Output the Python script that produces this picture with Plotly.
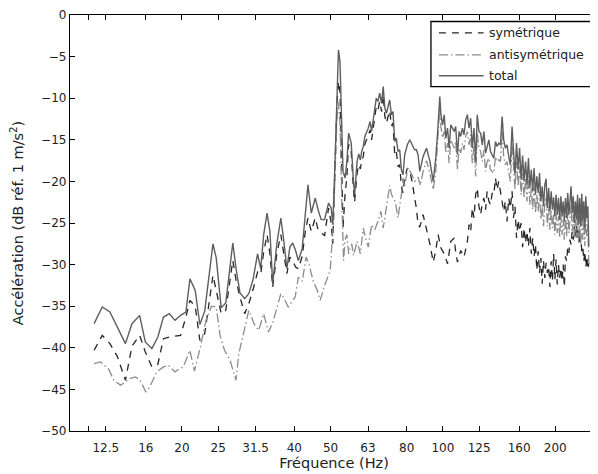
import plotly.graph_objects as go

# spectres (Hz, dB ref 1 m/s2)
freq_total = [
    11.63, 12.23, 12.82, 13.41, 14.11, 14.69, 15.40, 15.95, 16.61, 17.23, 17.84, 18.50, 19.16, 19.83,
    20.49, 21.0, 21.7, 22.33, 23.01, 24.21, 24.7, 25.47, 26.2, 27.36, 27.92, 28.6, 29.45, 30.2, 31.0,
    31.88, 32.5, 33.1, 33.8, 34.4, 35.0, 35.9, 36.8, 37.4, 38.2, 38.9, 39.6, 40.3, 41.0, 41.98, 42.8,
    43.5, 44.4, 45.5, 46.3, 47.2, 48.2, 49.4, 50.2, 50.7, 51.4, 52.0, 52.5, 53.0, 53.6, 54.0, 54.7,
    55.3, 55.9, 56.8, 57.6, 58.0, 58.9, 59.5, 60.1, 60.6, 61.2, 61.8, 63.1, 63.8, 64.4, 65.0, 65.7,
    66.3, 67.0, 67.7, 68.5, 69.2, 69.9, 70.6, 71.3, 72.0, 72.8, 73.5, 74.3, 75.0, 75.8, 76.6, 77.4,
    78.2, 79.0, 80.3, 81.5, 82.7, 84.0, 84.9, 85.8, 86.7, 88.5, 90.4, 92.3, 94.2, 95.7, 97.1, 98.1,
    98.8, 99.8, 100.8, 101.8, 102.9, 103.9, 105.0, 106.1, 107.2, 108.2, 109.4, 110.5, 111.6, 112.8,
    113.9, 115.1, 116.3, 117.5, 118.7, 119.9, 121.1, 122.4, 123.6, 124.9, 126.2, 127.5, 128.8, 130.1,
    131.4, 132.8, 134.1, 136.9, 138.3, 139.7, 141.1, 142.6, 144.1, 145.5, 147.0, 148.5, 150.1, 151.6,
    153.2, 154.5, 156, 157.5, 159, 160.5, 162, 163.5, 165, 166.5, 168, 169.5, 171, 172.5, 174, 175.5,
    177, 178.5, 180, 181.5, 183, 184.5, 186, 187.5, 189, 190.5, 192, 193.5, 195, 196.5, 198, 199.5,
    201, 202.5, 204, 205.5, 207, 208.5, 210, 211.5, 213, 214.5, 216, 217.5, 219, 220.5, 222, 223.5,
    225, 226.5, 228, 229.5, 231, 232.5, 234, 235.5, 237, 238.5, 240, 241.5, 243, 244.5, 246,
]
db_total = [
    -37.1, -35.1, -35.7, -37.5, -39.5, -37.1, -36.1, -39.3, -40.1, -38.7, -36.3, -35.9, -36.7, -36.1,
    -35.7, -31.7, -33.1, -37.2, -35.6, -27.5, -29.2, -35.2, -34.6, -27.4, -30.5, -33.4, -34.1, -33.5, -31.8,
    -28.7, -30.5, -26.4, -23.8, -26.0, -32.3, -27.5, -24.4, -26.8, -30.5, -27.9, -27.4, -28.3, -29.5, -28.1, -23.4,
    -20.4, -23.8, -22.0, -23.4, -24.6, -24.6, -22.6, -23.2, -25.2, -17.6, -8.8, -4.2, -5.6, -14.0, -18.8, -19.6,
    -17.6, -14.2, -15.4, -20.0, -21.6, -17.6, -16.7, -17.4, -16.4, -15.8, -14.6, -13.6, -12.8, -14.0, -12.6, -10.8,
    -10.0, -10.4, -9.4, -10.6, -8.6, -11.2, -11.8, -11.0, -10.2, -12.0, -11.6, -15.2, -14.8, -16.4, -16.2, -18.6,
    -19.2, -16.8, -15.6, -15.0, -15.6, -16.2, -16.2, -16.8, -18.8, -17.0, -16.0, -17.6, -20.0, -17.2, -13.2, -9.8,
    -12.0, -13.2, -12.0, -14.8, -13.6, -16.0, -13.2, -13.6, -14.0, -13.4, -16.8, -14.0, -14.6, -13.6,
    -14.4, -12.6, -12.0, -13.6, -12.4, -16.0, -13.6, -17.6, -12.0, -14.0, -14.2, -15.6, -14.0, -16.6,
    -15.6, -15.0, -16.4, -17.2, -15.2, -15.8, -15.4, -15.6, -12.2, -15.0, -16.0, -15.6, -17.0, -18.0,
    -13.4, -16.8, -19.2, -15.4, -18.6, -16.0, -19.8, -16.9, -20.0, -17.6, -20.4, -17.2, -20.8, -18.6, -21.2, -18.4,
    -21.6, -19.4, -21.4, -19.0, -22.4, -20.6, -23.0, -20.4, -19.7, -23.2, -20.8, -23.6, -21.2, -23.4, -21.9, -24.2,
    -21.6, -24.0, -22.0, -24.6, -21.8, -24.2, -22.4, -24.8, -22.0, -24.4, -21.4, -24.0, -22.2, -20.6, -23.8, -21.8,
    -25.0, -22.4, -24.6, -21.6, -25.2, -22.0, -25.4, -21.5, -24.8, -22.4, -25.6, -21.8, -24.4, -23.0, -27.8,
]

freq_sym = [
    11.63, 12.23, 12.82, 13.41, 14.11, 14.69, 15.40, 15.95, 16.61, 17.23, 17.84, 18.50, 19.16, 19.83,
    20.49, 21.0, 21.7, 22.33, 23.01, 24.21, 24.7, 25.47, 26.2, 27.36, 27.92, 28.6, 29.45, 30.2, 31.0,
    31.88, 32.5, 33.1, 33.8, 34.4, 35.0, 35.9, 36.8, 37.4, 38.2, 38.9, 39.6, 40.3, 41.0, 41.98, 42.8,
    43.5, 44.4, 45.5, 46.3, 47.2, 48.2, 49.4, 50.2, 50.7, 51.4, 52.0, 52.5, 53.0, 53.6, 54.0, 54.7,
    55.3, 55.9, 56.8, 57.6, 58.0, 58.9, 59.5, 60.1, 60.6, 61.2, 61.8, 63.1, 63.8, 64.4, 65.0, 65.7,
    66.3, 67.0, 67.7, 68.5, 69.2, 69.9, 70.6, 71.3, 72.0, 72.8, 73.5, 74.3, 75.0, 75.8, 76.6, 77.4,
    78.2, 79.0, 80.3, 81.5, 82.7, 84.0, 84.9, 85.8, 86.7, 88.5, 90.4, 92.3, 94.2, 95.7, 97.1, 98.8,
    100.8, 102.9, 105.0, 107.2, 108.2, 109.4, 111.6, 113.9, 116.3, 117.5, 118.7, 119.9, 121.1, 122.4,
    123.6, 124.9, 126.2, 127.5, 128.8, 130.1, 131.4, 132.8, 134.1, 135.5, 136.9, 138.3, 139.7, 141.1,
    142.6, 144.1, 145.5, 147.0, 148.5, 150.1, 151.6, 153.2, 154.5, 156, 157.5, 159, 160.5, 162, 163.5,
    165, 166.5, 168, 169.5, 171, 172.5, 174, 175.5, 177, 178.5, 180, 181.5, 183, 184.5, 186, 187.5,
    189, 190.5, 192, 193.5, 195, 196.5, 198, 199.5, 201, 202.5, 204, 205.5, 207, 208.5, 210, 211.5,
    213, 214.5, 216, 217.5, 219, 220.5, 222, 223.5, 225, 226.5, 228, 229.5, 231, 232.5, 234, 235.5,
    237, 238.5, 240, 241.5, 243, 244.5, 246,
]
db_sym = [
    -40.3, -38.5, -39.5, -41.0, -43.9, -39.8, -38.5, -40.5, -42.3, -42.0, -38.9, -38.7, -38.6, -38.5,
    -36.3, -34.3, -35.0, -39.1, -38.3, -31.3, -33.1, -35.9, -35.5, -29.5, -31.9, -33.9, -35.9, -34.7, -33.0,
    -30.9, -31.2, -28.5, -26.4, -28.7, -32.7, -28.7, -26.4, -28.3, -31.1, -29.1, -29.5, -30.3, -30.5, -29.0, -26.0,
    -24.4, -26.0, -24.4, -25.8, -26.2, -26.5, -23.2, -25.0, -27.5, -19.0, -10.8, -8.0, -9.2, -18.8, -25.6, -21.5,
    -19.5, -15.5, -16.5, -21.0, -22.5, -19.0, -18.0, -18.5, -17.5, -17.0, -15.5, -14.5, -13.8, -15.0, -13.5, -11.8,
    -11.0, -11.4, -10.4, -11.6, -9.6, -12.2, -13.0, -12.2, -11.5, -13.3, -13.0, -16.8, -16.4, -18.2, -18.0, -20.6,
    -21.4, -19.6, -18.4, -18.8, -20.0, -22.0, -23.2, -25.2, -25.5, -24.0, -25.6, -27.5, -29.7, -28.3, -26.4, -28.0,
    -28.7, -29.9, -27.2, -26.8, -28.5, -29.7, -28.3, -29.1, -27.2, -25.2, -26.0, -23.2, -24.4, -21.6,
    -20.8, -23.0, -24.0, -22.6, -22.0, -23.4, -21.2, -22.4, -22.8, -21.4, -21.6, -19.6, -21.0, -20.0,
    -21.2, -22.6, -23.6, -22.4, -24.8, -22.0, -23.2, -21.2, -24.4, -23.0, -26.8, -24.6, -26.0, -25.0, -27.9,
    -25.6, -27.4, -26.0, -27.8, -25.6, -28.7, -26.8, -29.0, -27.6, -30.7, -28.4, -31.0, -29.2, -32.3, -29.5, -31.6,
    -29.8, -31.0, -30.2, -32.7, -29.6, -32.0, -28.7, -31.8, -29.4, -32.4, -30.0, -31.6, -30.4, -32.0, -30.0, -32.7,
    -29.0, -29.6, -27.9, -28.6, -27.0, -27.6, -26.0, -27.0, -25.4, -26.6, -25.2, -26.8, -25.8, -27.6, -26.6, -28.4,
    -27.9, -29.6, -28.4, -30.3, -29.0, -30.6, -29.8,
]

freq_anti = [
    11.63, 12.1, 12.7, 13.14, 13.7, 14.5, 15.0, 15.45, 16.0, 16.4, 17.1, 17.84, 18.4, 19.16, 19.7,
    20.16, 21.0, 21.6, 22.4, 23.2, 24.0, 24.7, 25.3, 26.0, 26.9, 27.9, 28.4, 29.3, 30.2, 31.2, 32.1,
    33.1, 34.1, 35.0, 35.9, 36.8, 37.5, 38.5, 40.2, 41.0, 42.0, 43.0, 43.8, 45.0, 46.0, 46.9, 48.4,
    49.9, 50.9, 51.4, 52.0, 52.5, 53.0, 53.6, 54.2, 54.7, 55.3, 55.9, 57.0, 57.6, 58.9, 60.1, 61.2,
    61.8, 63.1, 64.4, 65.7, 67.0, 68.2, 69.2, 70.6, 71.3, 72.0, 72.8, 73.5, 74.6, 75.8, 77.4, 78.2,
    79.0, 80.6, 82.2, 84.0, 85.8, 87.0, 88.5, 90.4, 92.3, 94.2, 95.7, 97.1, 98.1,
    98.8, 99.8, 100.8, 101.8, 102.9, 103.9, 105.0, 106.1, 107.2, 108.2, 109.4, 110.5, 111.6, 112.8,
    113.9, 115.1, 116.3, 117.5, 118.7, 119.9, 121.1, 122.4, 123.6, 124.9, 126.2, 127.5, 128.8, 130.1,
    131.4, 132.8, 134.1, 136.9, 138.3, 139.7, 141.1, 142.6, 144.1, 145.5, 147.0, 148.5, 150.1, 151.6,
    153.2, 154.5, 156, 157.5, 159, 160.5, 162, 163.5, 165, 166.5, 168, 169.5, 171, 172.5, 174, 175.5,
    177, 178.5, 180, 181.5, 183, 184.5, 186, 187.5, 189, 190.5, 192, 193.5, 195, 196.5, 198, 199.5,
    201, 202.5, 204, 205.5, 207, 208.5, 210, 211.5, 213, 214.5, 216, 217.5, 219, 220.5, 222, 223.5,
    225, 226.5, 228, 229.5, 231, 232.5, 234, 235.5, 237, 238.5, 240, 241.5, 243, 244.5, 246,
]
db_anti = [
    -41.9, -41.7, -42.5, -43.9, -44.5, -43.7, -43.5, -43.9, -45.3, -44.7, -42.9, -42.3, -42.1, -42.9, -42.5,
    -42.3, -40.3, -42.8, -39.9, -36.7, -35.0, -35.1, -38.5, -40.3, -41.5, -43.9, -40.7, -37.9, -35.5, -37.1, -37.9,
    -35.9, -38.1, -37.0, -35.1, -33.5, -34.0, -35.1, -33.9, -31.5, -32.0, -29.1, -30.0, -32.1, -33.0, -34.3, -32.3,
    -30.7, -24.8, -18.4, -12.8, -10.5, -13.0, -22.4, -29.5, -27.0, -26.4, -28.7, -27.5, -28.9, -27.2, -28.7, -25.6,
    -26.5, -27.9, -25.2, -25.8, -24.8, -23.6, -25.6, -23.2, -21.5, -20.5, -21.5, -22.0, -22.5, -24.4, -21.6, -19.6,
    -20.5, -18.4, -19.0, -20.0, -19.5, -20.5, -18.8, -17.5, -19.0, -21.0, -18.8, -14.5, -11.0,
    -13.5, -14.8, -14.0, -16.6, -15.4, -17.8, -15.0, -15.6, -16.0, -15.2, -18.6, -16.0, -16.6, -15.4,
    -16.2, -14.6, -14.0, -15.6, -14.4, -17.8, -15.8, -19.4, -14.2, -16.0, -16.4, -17.6, -16.2, -18.8,
    -17.6, -17.2, -18.6, -19.0, -17.0, -17.6, -17.4, -17.6, -14.0, -17.0, -18.0, -17.6, -19.0, -20.0,
    -15.4, -18.8, -21.0, -17.6, -20.6, -18.2, -21.6, -19.0, -22.0, -19.6, -22.4, -19.4, -22.8, -20.8, -23.4, -20.6,
    -23.8, -21.6, -23.6, -21.2, -24.6, -22.8, -25.4, -22.6, -21.8, -25.4, -23.0, -25.8, -23.4, -25.6, -24.0, -26.4,
    -23.8, -26.2, -24.2, -26.8, -24.0, -26.4, -24.6, -27.0, -24.2, -26.6, -23.6, -26.2, -24.4, -22.8, -26.0, -24.0,
    -27.2, -24.6, -26.8, -23.8, -27.4, -24.2, -27.6, -23.8, -27.0, -24.6, -27.8, -24.0, -26.6, -25.2, -30.0,
]

tick_freqs = [11.2, 12.5, 16, 20, 25, 31.5, 40, 50, 63, 80, 100, 125, 160, 200]
tick_labels = ["", "12.5", "16", "20", "25", "31.5", "40", "50", "63", "80", "100", "125", "160", "200"]

font = "DejaVu Sans, Liberation Sans, Arial, sans-serif"

series = [
    ("symétrique", freq_sym, db_sym, dict(color="#262626", width=1.3, dash="7px,6px")),
    ("antisymétrique", freq_anti, db_anti, dict(color="#8c8c8c", width=1.3, dash="9px,3px,1.5px,3px")),
    ("total", freq_total, db_total, dict(color="#5e5e5e", width=1.4)),
]

fig = go.Figure()
for name, fx, fy, line in series:
    fig.add_trace(go.Scatter(x=fx, y=fy, mode="lines", name=name, line=line, showlegend=False))

# legende dessinee a la main (boite MATLAB, echantillons de 45 px)
shapes = [dict(type="rect", xref="paper", yref="paper", x0=0.6836, x1=0.9962, y0=0.8278, y1=0.9844,
               line=dict(color="black", width=1.3), fillcolor="white", layer="above")]
annotations = []
row_y = [0.9569, 0.9043, 0.8541]
for (name, _, _, line), yy in zip(series, row_y):
    shapes.append(dict(type="line", xref="paper", yref="paper", x0=0.6987, x1=0.7834, y0=yy, y1=yy,
                       line=dict(color=line["color"], width=line["width"], dash=line.get("dash", "solid")),
                       layer="above"))
    annotations.append(dict(xref="paper", yref="paper", x=0.789, y=yy, xanchor="left", yanchor="middle",
                            text=name, showarrow=False, font=dict(family=font, size=12.5, color="#222")))

# la page ajoute 8 px de marge au body : on reduit la figure d'autant
fig.update_layout(
    width=590, height=466,
    margin=dict(l=59, r=0, t=5, b=43),
    paper_bgcolor="white", plot_bgcolor="white",
    font=dict(family=font, size=12, color="#222"),
    shapes=shapes, annotations=annotations,
)
fig.update_xaxes(
    type="log", range=[1.001, 2.4155],
    tickvals=tick_freqs, ticktext=tick_labels,
    ticks="inside", ticklen=5, tickcolor="black", tickwidth=1,
    showline=True, linecolor="black", linewidth=1.3, mirror="ticks",
    showgrid=False, zeroline=False,
    tickfont=dict(size=12), ticklabelstandoff=5,
    title=dict(text="Fréquence (Hz)", font=dict(size=14.5), standoff=1),
)
fig.update_yaxes(
    range=[-50, 0], dtick=5, tick0=0,
    ticks="inside", ticklen=5, tickcolor="black", tickwidth=1,
    showline=True, linecolor="black", linewidth=1.3, mirror=False,
    showgrid=False, zeroline=False,
    tickfont=dict(size=12), ticklabeloverflow="allow",
    title=dict(text="Accélération (dB réf. 1 m/s<sup>2</sup>)", font=dict(size=14.5), standoff=23),
)

fig.write_html("out.html")
